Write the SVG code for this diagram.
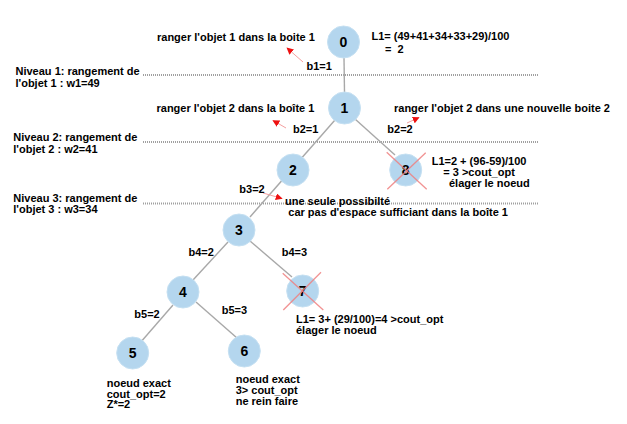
<svg xmlns="http://www.w3.org/2000/svg" width="627" height="424" viewBox="0 0 627 424">
<style>
.t{font-family:"Liberation Sans",Arial,sans-serif;font-size:11px;font-weight:bold;fill:#000}
.n circle{fill:#b4d6ee;stroke:#c5e0f2;stroke-width:1}
.n text{font-family:"Liberation Sans",Arial,sans-serif;font-size:14px;font-weight:bold;text-anchor:middle;fill:#000}
.e line{stroke:#a8a8a8;stroke-width:1.4}
.dot{stroke:#a0a0a0;stroke-width:2;stroke-dasharray:1 1}
.ar{stroke:#f4a0a0;stroke-width:1;fill:none;marker-end:url(#ah)}
.x{stroke:#f08080;stroke-width:1.3;opacity:0.85}
</style>
<defs>
<marker id="ah" viewBox="0 0 10 10" refX="9" refY="5" markerWidth="7" markerHeight="7" orient="auto" markerUnits="userSpaceOnUse">
<path d="M0,0 L10,5 L0,10 z" fill="#ee1111"/>
</marker>
</defs>
<rect width="627" height="424" fill="#fff"/>
<g id="levels">
<line class="dot" x1="143" y1="75" x2="538" y2="75"/>
<line class="dot" x1="143" y1="142" x2="539" y2="142"/>
<line class="dot" x1="143" y1="203.5" x2="539" y2="203.5"/>
</g>
<g class="e" id="connectors">
<line x1="344" y1="58" x2="344.5" y2="92"/>
<line x1="335" y1="120" x2="250" y2="217"/>
<line x1="355" y1="119" x2="395" y2="155"/>
<line x1="228" y1="242" x2="193" y2="280"/>
<line x1="250" y1="241" x2="292" y2="277"/>
<line x1="173" y1="305" x2="140" y2="343"/>
<line x1="196" y1="302" x2="237" y2="338"/>
</g>
<g id="n0" class="n"><circle cx="343.5" cy="42" r="16"/><text x="343.5" y="47">0</text></g>
<g id="n1" class="n"><circle cx="344.5" cy="108" r="16"/><text x="344.5" y="113">1</text></g>
<g id="n2" class="n"><circle cx="293" cy="170" r="16"/><text x="293" y="175">2</text></g>
<g id="n8" class="n"><circle cx="405.7" cy="170" r="16"/><text x="405.7" y="175">8</text></g>
<g id="n3" class="n"><circle cx="239" cy="230" r="16"/><text x="239" y="235">3</text></g>
<g id="n4" class="n"><circle cx="183" cy="292" r="16"/><text x="183" y="297">4</text></g>
<g id="n7" class="n"><circle cx="302.7" cy="291" r="16"/><text x="302.7" y="296">7</text></g>
<g id="n5" class="n"><circle cx="132.7" cy="353" r="16"/><text x="132.7" y="358">5</text></g>
<g id="n6" class="n"><circle cx="244.3" cy="351" r="16"/><text x="244.3" y="356">6</text></g>
<g id="crosses">
<line class="x" x1="386.7" y1="152.3" x2="426.7" y2="189.3"/>
<line class="x" x1="425.7" y1="152.7" x2="387.3" y2="189.3"/>
<line class="x" x1="282.7" y1="273.3" x2="323.3" y2="310"/>
<line class="x" x1="321" y1="272.3" x2="283.3" y2="310"/>
</g>
<g id="arrows">
<line class="ar" x1="303" y1="62" x2="287" y2="48"/>
<line class="ar" x1="286" y1="128" x2="273" y2="120.5"/>
<line class="ar" x1="407" y1="123" x2="419" y2="117.5"/>
<line class="ar" x1="263" y1="193" x2="282" y2="198.5"/>
</g>
<g id="labels">
<text class="t" x="157" y="41">ranger l'objet 1 dans la boite 1</text>
<text class="t" x="306.5" y="69.5">b1=1</text>
<text class="t" x="371.5" y="39.5">L1= (49+41+34+33+29)/100</text>
<text class="t" x="385" y="52.5" xml:space="preserve">=  2</text>
<text class="t" x="15.5" y="75">Niveau 1: rangement de</text>
<text class="t" x="15.5" y="87">l'objet 1 : w1=49</text>
<text class="t" x="156.5" y="112">ranger l'objet 2 dans la boîte 1</text>
<text class="t" x="293" y="133">b2=1</text>
<text class="t" x="394" y="112">ranger l'objet 2 dans une nouvelle boite 2</text>
<text class="t" x="387.3" y="133">b2=2</text>
<text class="t" x="13.3" y="141">Niveau 2: rangement de</text>
<text class="t" x="13.3" y="152.5">l'objet 2 : w2=41</text>
<text class="t" x="431.7" y="165">L1=2 + (96-59)/100</text>
<text class="t" x="443.3" y="176">= 3 &gt;cout_opt</text>
<text class="t" x="449" y="187">élager le noeud</text>
<text class="t" x="239.3" y="193.3">b3=2</text>
<text class="t" x="285" y="205">une seule possibilté</text>
<text class="t" x="288.3" y="216">car pas d'espace sufficiant dans la boîte 1</text>
<text class="t" x="13.3" y="201.7">Niveau 3: rangement de</text>
<text class="t" x="13.3" y="213.3">l'objet 3 : w3=34</text>
<text class="t" x="188.5" y="255.5">b4=2</text>
<text class="t" x="281.7" y="255.5">b4=3</text>
<text class="t" x="134.3" y="318.3">b5=2</text>
<text class="t" x="221.7" y="314">b5=3</text>
<text class="t" x="296" y="322.7">L1= 3+ (29/100)=4 &gt;cout_opt</text>
<text class="t" x="296" y="333.5">élager le noeud</text>
<text class="t" x="106.7" y="386.7">noeud exact</text>
<text class="t" x="106.7" y="397.5">cout_opt=2</text>
<text class="t" x="106.7" y="408.3">Z*=2</text>
<text class="t" x="235.7" y="383.3">noeud exact</text>
<text class="t" x="235.7" y="394.3">3&gt; cout_opt</text>
<text class="t" x="235.7" y="405">ne rein faire</text>
</g>
</svg>
